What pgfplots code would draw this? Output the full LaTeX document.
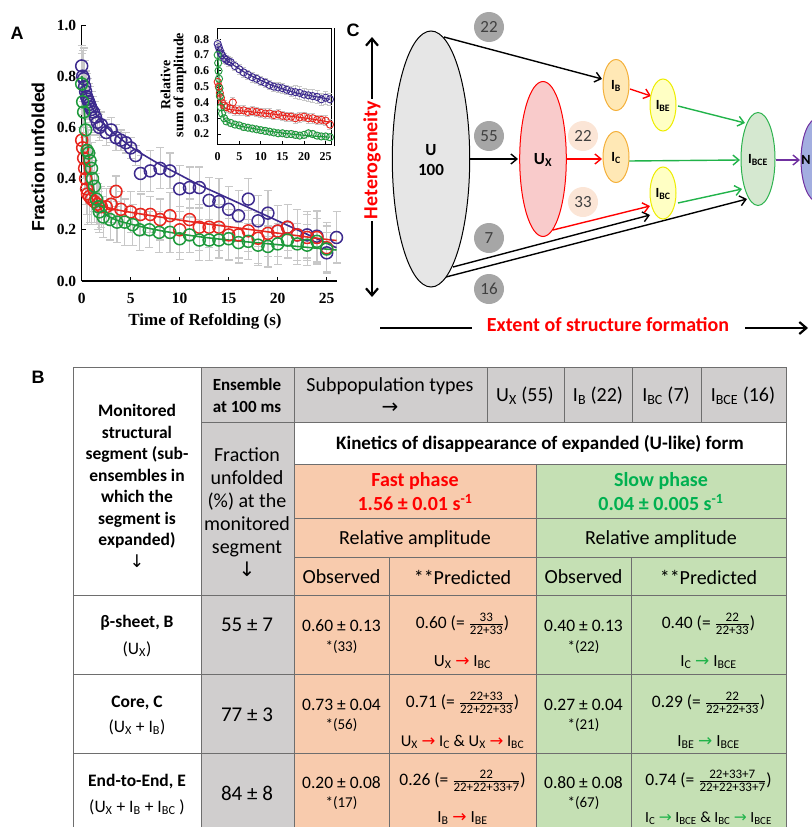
\documentclass[border=0pt]{standalone}
\usepackage{pgfplots}
\pgfplotsset{compat=1.18}
\usepackage{pgfplotstable}
\usepackage{fontspec}
\setmainfont{Carlito}
\newfontfamily\timesfont{Liberation Serif}
\newfontfamily\arialfont{Liberation Sans}
\newfontfamily\dejavu{DejaVu Sans}
\usetikzlibrary{arrows.meta}

\definecolor{cpur}{HTML}{3D2B8E}
\definecolor{cred}{HTML}{E8261E}
\definecolor{cgrn}{HTML}{1E9A3C}
\definecolor{ebar}{HTML}{C8C8C8}
\definecolor{tgray}{HTML}{D0CECE}
\definecolor{torange}{HTML}{F8CBAD}
\definecolor{tgreen}{HTML}{C5E0B4}
\definecolor{tline}{HTML}{6E6E6E}
\definecolor{fred}{HTML}{FF0000}
\definecolor{fgreen}{HTML}{00B050}
\definecolor{ugray}{HTML}{E6E6E6}
\definecolor{badge}{HTML}{A6A6A6}
\definecolor{peach}{HTML}{FBE5D6}
\definecolor{uxfill}{HTML}{F9CBCB}
\definecolor{ibfill}{HTML}{FFE8B5}
\definecolor{ibdraw}{HTML}{F4B03A}
\definecolor{iyfill}{HTML}{FFFFC4}
\definecolor{iydraw}{HTML}{EDED00}
\definecolor{igfill}{HTML}{D5E8D0}
\definecolor{igdraw}{HTML}{2EB34F}
\definecolor{nfill}{HTML}{A3AEE0}
\definecolor{ndraw}{HTML}{7030A0}
\definecolor{arrgreen}{HTML}{21B34A}

\newcommand\fr[2]{$\frac{\hbox{\fontsize{13}{13}\selectfont#1}}{\hbox{\fontsize{13}{13}\selectfont#2}}$}
\newcommand\ra{{\dejavu\textcolor{fred}{→}}}
\newcommand\ga{{\dejavu\textcolor{arrgreen}{→}}}
\newcommand\sub[1]{\textsubscript{#1}}

% main plot data: x y error
\pgfplotstableread{
x y e
0 0.84 0.08
0.1 0.80 0.10
0.2 0.79 0.12
0.3 0.76 0.10
0.4 0.74 0.08
0.5 0.72 0.09
0.6 0.71 0.08
0.7 0.70 0.07
0.8 0.69 0.07
0.9 0.68 0.06
1.0 0.67 0.07
1.2 0.66 0.06
1.4 0.64 0.06
1.6 0.62 0.05
1.8 0.60 0.05
2.0 0.61 0.05
2.5 0.58 0.05
3.0 0.59 0.05
3.5 0.56 0.05
4.0 0.55 0.04
4.5 0.54 0.04
5.0 0.52 0.04
5.5 0.49 0.04
6 0.42 0.07
7 0.43 0.08
8 0.44 0.08
9 0.43 0.07
10 0.36 0.09
11 0.365 0.08
12 0.365 0.08
13 0.315 0.09
14 0.31 0.09
15 0.28 0.09
16 0.255 0.10
17 0.32 0.08
18 0.235 0.10
19 0.265 0.09
20 0.195 0.10
21 0.21 0.09
22 0.18 0.10
23 0.18 0.09
24 0.175 0.10
25 0.11 0.08
26 0.17 0.10
}\purA
\pgfplotstableread{
x y e
0 0.55 0.05
0.1 0.52 0.06
0.2 0.48 0.08
0.3 0.44 0.08
0.4 0.40 0.10
0.5 0.36 0.10
0.6 0.34 0.12
0.8 0.33 0.10
1.0 0.32 0.10
1.3 0.31 0.08
1.6 0.30 0.08
2.0 0.29 0.08
2.5 0.29 0.07
3.0 0.30 0.07
3.5 0.35 0.06
4 0.28 0.07
5 0.27 0.08
6 0.26 0.08
7 0.26 0.07
8 0.24 0.08
9 0.255 0.09
10 0.20 0.09
11 0.24 0.08
12 0.21 0.09
13 0.21 0.08
14 0.21 0.09
15 0.18 0.10
16 0.18 0.09
17 0.196 0.08
18 0.167 0.10
19 0.186 0.09
20 0.195 0.10
21 0.21 0.09
22 0.18 0.10
23 0.17 0.09
24 0.17 0.10
25 0.13 0.10
}\redA
\pgfplotstableread{
x y e
0 0.77 0.12
0.1 0.70 0.10
0.2 0.66 0.10
0.4 0.59 0.10
0.55 0.51 0.10
0.7 0.50 0.09
0.85 0.47 0.10
1.0 0.44 0.10
1.1 0.40 0.10
1.3 0.37 0.10
1.5 0.32 0.10
1.7 0.29 0.09
1.8 0.27 0.08
2.2 0.25 0.08
2.9 0.24 0.08
3.6 0.23 0.08
4.4 0.23 0.09
5.2 0.22 0.08
5.9 0.20 0.08
6.9 0.20 0.07
7.9 0.19 0.08
9 0.19 0.08
10 0.165 0.08
11 0.18 0.07
12 0.16 0.08
13 0.16 0.08
14 0.16 0.07
15 0.165 0.08
16 0.15 0.08
17 0.155 0.07
18 0.14 0.08
19 0.135 0.08
20 0.145 0.08
21 0.16 0.07
22 0.145 0.08
23 0.14 0.08
24 0.155 0.09
25 0.125 0.09
}\grnA

% inset data
\pgfplotstableread{
x y e
0 0.77 0.03
0.25 0.75 0.03
0.5 0.73 0.03
0.75 0.71 0.03
1 0.70 0.03
1.5 0.68 0.03
2 0.67 0.03
2.5 0.66 0.03
3 0.655 0.03
4 0.63 0.03
5 0.61 0.03
6 0.59 0.03
7 0.575 0.03
8 0.56 0.03
9 0.55 0.03
10 0.535 0.03
11 0.525 0.03
12 0.51 0.03
13 0.50 0.03
14 0.495 0.03
15 0.49 0.03
16 0.48 0.03
17 0.47 0.03
18 0.465 0.04
19 0.46 0.04
20 0.45 0.04
21 0.445 0.04
22 0.44 0.04
23 0.435 0.04
24 0.42 0.04
25 0.43 0.04
26 0.42 0.04
}\purB
\pgfplotstableread{
x y e
0 0.53 0.03
0.25 0.50 0.03
0.5 0.46 0.03
0.75 0.43 0.03
1 0.40 0.03
1.5 0.38 0.03
2 0.37 0.03
3 0.36 0.03
3.5 0.40 0.03
4 0.35 0.03
5 0.35 0.03
6 0.35 0.03
7 0.34 0.03
8 0.345 0.03
9 0.34 0.03
10 0.335 0.03
11 0.33 0.03
12 0.33 0.03
13 0.32 0.03
14 0.325 0.03
15 0.315 0.03
16 0.31 0.03
17 0.31 0.03
18 0.30 0.03
19 0.305 0.03
20 0.31 0.03
21 0.30 0.03
22 0.30 0.03
23 0.29 0.03
24 0.29 0.03
25 0.285 0.03
26 0.26 0.03
}\redB
\pgfplotstableread{
x y e
0 0.70 0.02
0.1 0.65 0.02
0.2 0.60 0.02
0.3 0.55 0.02
0.4 0.49 0.02
0.5 0.44 0.02
0.75 0.37 0.02
1 0.33 0.02
1.5 0.30 0.02
2 0.28 0.02
3 0.27 0.02
4 0.26 0.02
5 0.255 0.02
6 0.245 0.02
7 0.24 0.02
8 0.235 0.02
9 0.23 0.02
10 0.225 0.02
11 0.22 0.02
12 0.215 0.02
13 0.21 0.02
14 0.205 0.02
15 0.205 0.02
16 0.20 0.02
17 0.20 0.02
18 0.195 0.02
19 0.19 0.02
20 0.195 0.02
21 0.205 0.02
22 0.20 0.02
23 0.19 0.02
24 0.185 0.02
25 0.185 0.02
26 0.18 0.02
}\grnB

\begin{document}
\begin{tikzpicture}[x=1pt,y=-1pt]
\useasboundingbox (0,0) rectangle (811,827);

% ================= Panel A =================
\begin{axis}[
  at={(81.7pt,-281pt)}, anchor=south west, scale only axis,
  width=254.8pt, height=256pt,
  xmin=0, xmax=26, ymin=0, ymax=1,
  axis x line*=bottom, axis y line*=left,
  axis line style={line width=1.2pt, black},
  xtick={0,5,10,15,20,25}, ytick={0,0.2,0.4,0.6,0.8,1.0},
  tick align=inside, major tick length=4pt,
  tick style={black, line width=1pt},
  /pgf/number format/assume math mode=true,
  tick label style={font=\timesfont\bfseries\fontsize{15.5}{18}\selectfont},
  xticklabel style={yshift=-9pt},
  yticklabel style={xshift=-2pt, /pgf/number format/fixed, /pgf/number format/fixed zerofill, /pgf/number format/precision=1},
  clip=false,
]
\pgfplotsset{ebstyle/.style={draw=none, mark=none, forget plot,
   error bars/.cd, y dir=both, y explicit,
   error bar style={draw=ebar, solid, line width=1.2pt},
   error mark options={draw=ebar, line width=1.2pt, mark size=4pt, rotate=90}}}
\addplot[ebstyle] table[x=x,y=y,y error=e]{\purA};
\addplot[ebstyle] table[x=x,y=y,y error=e]{\redA};
\addplot[ebstyle] table[x=x,y=y,y error=e]{\grnA};
% fits
\addplot[cpur, line width=1.6pt, no marks, smooth] coordinates {(0,0.80)(0.25,0.76)(0.5,0.725)(0.75,0.70)(1,0.68)(1.5,0.65)(2,0.625)(3,0.585)(4,0.555)(5,0.525)(6,0.50)(8,0.455)(10,0.415)(12,0.375)(14,0.34)(16,0.305)(18,0.27)(20,0.235)(22,0.20)(24,0.165)(26,0.13)};
\addplot[cred, line width=1.6pt, no marks, smooth] coordinates {(0,0.58)(0.1,0.52)(0.2,0.47)(0.35,0.42)(0.5,0.38)(0.75,0.345)(1,0.325)(1.5,0.305)(2,0.295)(3,0.283)(4,0.275)(6,0.262)(8,0.25)(10,0.238)(12,0.227)(14,0.217)(16,0.207)(18,0.197)(20,0.187)(22,0.177)(24,0.167)(26,0.158)};
\addplot[cgrn, line width=1.6pt, no marks, smooth] coordinates {(0,0.80)(0.25,0.67)(0.5,0.56)(0.75,0.47)(1,0.405)(1.25,0.355)(1.5,0.32)(1.75,0.295)(2,0.278)(2.5,0.258)(3,0.247)(4,0.232)(6,0.213)(8,0.197)(10,0.184)(12,0.173)(14,0.164)(16,0.156)(18,0.149)(20,0.142)(22,0.135)(24,0.128)(26,0.121)};
% points
\addplot[only marks, mark=o, mark size=6pt, mark options={cpur, line width=1.5pt}] table[x=x,y=y]{\purA};
\addplot[only marks, mark=o, mark size=6pt, mark options={cred, line width=1.5pt}] table[x=x,y=y]{\redA};
\addplot[only marks, mark=o, mark size=6pt, mark options={cgrn, line width=1.5pt}] table[x=x,y=y]{\grnA};
\end{axis}

% inset
\begin{axis}[
  at={(217.7pt,-144pt)}, anchor=south west, scale only axis,
  width=114pt, height=115.5pt,
  xmin=0, xmax=26.4, ymin=0.137, ymax=0.868,
  axis line style={line width=1pt, black},
  xtick={0,5,10,15,20,25}, ytick={0.2,0.3,0.4,0.5,0.6,0.7,0.8},
  tick align=inside, major tick length=3pt,
  tick style={black, line width=0.8pt},
  xtick pos=bottom, ytick pos=left,
  /pgf/number format/assume math mode=true,
  tick label style={font=\timesfont\bfseries\fontsize{12}{14}\selectfont},
  xticklabel style={yshift=-5pt},
  yticklabel style={xshift=-5pt, /pgf/number format/fixed, /pgf/number format/fixed zerofill, /pgf/number format/precision=1},
  axis background/.style={fill=white},
  clip=false,
]
\pgfplotsset{ebs/.style={draw=none, mark=none, forget plot,
   error bars/.cd, y dir=both, y explicit,
   error bar style={draw=ebar, solid, line width=0.8pt},
   error mark options={draw=ebar, line width=0.8pt, mark size=2.5pt, rotate=90}}}
\addplot[ebs] table[x=x,y=y,y error=e]{\purB};
\addplot[ebs] table[x=x,y=y,y error=e]{\redB};
\addplot[ebs] table[x=x,y=y,y error=e]{\grnB};
\addplot[cpur, line width=1.1pt, no marks, smooth] coordinates {(0,0.76)(0.5,0.72)(1,0.70)(2,0.67)(3,0.65)(4,0.63)(6,0.595)(8,0.565)(10,0.54)(12,0.515)(14,0.495)(16,0.478)(18,0.462)(20,0.45)(22,0.44)(24,0.43)(26,0.42)};
\addplot[cred, line width=1.1pt, no marks, smooth] coordinates {(0,0.53)(0.25,0.48)(0.5,0.44)(0.75,0.41)(1,0.39)(1.5,0.37)(2,0.36)(3,0.355)(5,0.348)(8,0.34)(11,0.332)(14,0.322)(17,0.312)(20,0.302)(23,0.29)(26,0.275)};
\addplot[cgrn, line width=1.1pt, no marks, smooth] coordinates {(0,0.72)(0.2,0.60)(0.4,0.50)(0.6,0.42)(0.8,0.36)(1,0.33)(1.5,0.295)(2,0.28)(3,0.268)(5,0.252)(8,0.236)(11,0.222)(14,0.21)(17,0.20)(20,0.192)(23,0.186)(26,0.18)};
\addplot[only marks, mark=o, mark size=3.6pt, mark options={cpur, line width=0.9pt}] table[x=x,y=y]{\purB};
\addplot[only marks, mark=o, mark size=3.6pt, mark options={cred, line width=0.9pt}] table[x=x,y=y]{\redB};
\addplot[only marks, mark=o, mark size=3.6pt, mark options={cgrn, line width=0.9pt}] table[x=x,y=y]{\grnB};
\end{axis}
\draw[line width=1pt] (334.5,28) -- (334.5,146);

\node[font=\arialfont\bfseries\fontsize{18}{18}\selectfont] at (17,33) {A};
\node[rotate=90, font=\arialfont\bfseries\fontsize{17.7}{17.7}\selectfont] at (38,157) {Fraction unfolded};
\node[font=\timesfont\bfseries\fontsize{17}{17}\selectfont] at (205,321) {Time of Refolding (s)};
\node[rotate=90, align=center, font=\timesfont\bfseries\fontsize{14}{13}\selectfont] at (173.5,85) {Relative\\sum of amplitude};

% ================= Panel C =================
\tikzset{arr/.style={line width=1.4pt, -{Straight Barb[length=6pt,width=10pt]}}}
\node[font=\arialfont\bfseries\fontsize{18}{18}\selectfont] at (353,30) {C};
\draw[line width=2.2pt, {Straight Barb[length=7pt,width=12pt]}-{Straight Barb[length=7pt,width=12pt]}] (372,37) -- (372,297);
\node[fill=white, rotate=90, text=fred, font=\bfseries\fontsize{20}{20}\selectfont, inner sep=2pt] at (372,160) {Heterogeneity};

% arrows first (behind ellipses)
\draw[arr, black] (444,37) -- (602,79);
\draw[arr, black] (470,159) -- (518,159);
\draw[arr, black] (453,267) -- (650,215);
\draw[arr, black] (446,277) -- (747,199);
\draw[arr, red] (567,159) -- (602,159);
\draw[arr, red] (630,89) -- (651,96);
\draw[arr, red] (553,230) -- (650,206);
\draw[arr, arrgreen] (678,106) -- (745,123);
\draw[arr, arrgreen] (629,161) -- (740,160);
\draw[arr, arrgreen] (678,203) -- (742,189);
\draw[arr, ndraw] (776,160) -- (800,160);

\draw[fill=ugray, line width=1pt] (431,159) ellipse [x radius=38.7pt, y radius=128pt];
\node[font=\bfseries\fontsize{17}{20}\selectfont, align=center] at (431,160) {U\\100};
\draw[fill=uxfill, draw=red, line width=1pt] (543,159) ellipse [x radius=23.3pt, y radius=77.5pt];
\node[font=\bfseries\fontsize{17}{17}\selectfont] at (543,160) {U\sub{X}};
\draw[fill=ibfill, draw=ibdraw, line width=1pt] (616,85) ellipse [x radius=13pt, y radius=25.5pt];
\node[font=\bfseries\fontsize{14}{14}\selectfont] at (616,86) {I\sub{B}};
\draw[fill=ibfill, draw=ibdraw, line width=1pt] (616,157) ellipse [x radius=13pt, y radius=25.5pt];
\node[font=\bfseries\fontsize{14}{14}\selectfont] at (616,158) {I\sub{C}};
\draw[fill=iyfill, draw=iydraw, line width=1pt] (663,105) ellipse [x radius=13pt, y radius=26pt];
\node[font=\bfseries\fontsize{14}{14}\selectfont] at (663,106) {I\sub{BE}};
\draw[fill=iyfill, draw=iydraw, line width=1pt] (663,193) ellipse [x radius=13pt, y radius=26pt];
\node[font=\bfseries\fontsize{14}{14}\selectfont] at (663,194) {I\sub{BC}};
\draw[fill=igfill, draw=igdraw, line width=1pt] (758,159) ellipse [x radius=17pt, y radius=46.5pt];
\node[font=\bfseries\fontsize{14}{14}\selectfont] at (758,160) {I\sub{BCE}};
\draw[fill=nfill, draw=ndraw, line width=1pt] (818,160) ellipse [x radius=17pt, y radius=42pt];
\node[font=\bfseries\fontsize{14}{14}\selectfont, inner sep=0pt] at (806,160) {N};

\tikzset{badge/.style={circle, fill=badge, minimum size=30pt, inner sep=0pt, text=black!75, font=\fontsize{17}{17}\selectfont}}
\tikzset{pbadge/.style={circle, fill=peach, minimum size=30pt, inner sep=0pt, text=black!75, font=\fontsize{17}{17}\selectfont}}
\node[badge] at (489,27) {22};
\node[badge] at (489,136) {55};
\node[badge] at (489,238) {7};
\node[badge] at (489,289) {16};
\node[pbadge] at (583,136) {22};
\node[pbadge] at (583,202) {33};

\draw[line width=2.2pt] (380,328) -- (472,328);
\node[text=fred, font=\bfseries\fontsize{20}{20}\selectfont] at (608,325) {Extent of structure formation};
\draw[line width=2.2pt, -{Straight Barb[length=7pt,width=12pt]}] (745,328) -- (808,328);

% ================= Panel B =================
\node[font=\arialfont\bfseries\fontsize{18}{18}\selectfont] at (38,377) {B};
\fill[white] (73,367) rectangle (201,832);
\fill[tgray] (201,367) rectangle (294,832);
\fill[tgray] (294,367) rectangle (786,422);
\fill[white] (294,422) rectangle (786,464);
\fill[torange] (294,464) rectangle (536,832);
\fill[tgreen] (536,464) rectangle (786,832);
\begin{scope}[draw=tline, line width=0.9pt]
\draw (73,367) -- (786,367);
\draw (73,367) -- (73,832);
\draw (201,367) -- (201,832);
\draw (294,367) -- (294,832);
\draw (786,367) -- (786,832);
\draw (201,422) -- (786,422);
\foreach \xx in {487,564,632,701} \draw (\xx,367) -- (\xx,422);
\draw (294,464) -- (786,464);
\draw (536,464) -- (536,832);
\draw (294,518) -- (786,518);
\draw (294,557) -- (786,557);
\draw (389,557) -- (389,832);
\draw (631,557) -- (631,832);
\foreach \yy in {595,674,753} \draw (73,\yy) -- (786,\yy);
\end{scope}

\node[align=center, font=\bfseries\fontsize{17.5}{21.5}\selectfont] at (137,486) {Monitored\\structural\\segment (sub-\\ensembles in\\which the\\segment is\\expanded)\\{\dejavu\mdseries ↓}};
\node[align=center, font=\bfseries\fontsize{17}{22}\selectfont] at (247,396) {Ensemble\\at 100 ms};
\node[align=center, font=\fontsize{20}{23}\selectfont] at (247,512) {Fraction\\unfolded\\(\%) at the\\monitored\\segment\\{\dejavu ↓}};
\node[align=center, font=\fontsize{20}{22}\selectfont] at (390,396) {Subpopulation types\\{\dejavu →}};
\node[font=\fontsize{20}{20}\selectfont] at (525,396) {U\sub{X} (55)};
\node[font=\fontsize{20}{20}\selectfont] at (598,396) {I\sub{B} (22)};
\node[font=\fontsize{20}{20}\selectfont] at (666,396) {I\sub{BC} (7)};
\node[font=\fontsize{20}{20}\selectfont] at (743,396) {I\sub{BCE} (16)};
\node[font=\bfseries\fontsize{19}{19}\selectfont] at (540,444) {Kinetics of disappearance of expanded (U-like) form};
\node[align=center, text=fred, font=\bfseries\fontsize{20}{24}\selectfont] at (415,492) {Fast phase\\1.56 ± 0.01 s\textsuperscript{-1}};
\node[align=center, text=fgreen, font=\bfseries\fontsize{20}{24}\selectfont] at (661,492) {Slow phase\\0.04 ± 0.005 s\textsuperscript{-1}};
\node[font=\fontsize{20}{20}\selectfont] at (415,539) {Relative amplitude};
\node[font=\fontsize{20}{20}\selectfont] at (661,539) {Relative amplitude};
\node[font=\fontsize{20}{20}\selectfont] at (341.5,577) {Observed};
\node[font=\fontsize{20}{20}\selectfont] at (462.5,577) {**Predicted};
\node[font=\fontsize{20}{20}\selectfont] at (583.5,577) {Observed};
\node[font=\fontsize{20}{20}\selectfont] at (708.5,577) {**Predicted};

% row 1
\node[font=\bfseries\fontsize{17.5}{17.5}\selectfont] at (137,623) {β-sheet, B};
\node[font=\fontsize{17.5}{17.5}\selectfont] at (137,649) {(U\sub{X})};
\node[font=\fontsize{21}{21}\selectfont] at (247,625) {55 ± 7};
\node[font=\fontsize{17.5}{17.5}\selectfont] at (341.5,626) {0.60 ± 0.13};
\node[font=\fontsize{15}{15}\selectfont] at (341.5,647) {*(33)};
\node[font=\fontsize{17.5}{17.5}\selectfont] at (462.5,624) {0.60 (= \fr{33}{22+33})};
\node[font=\fontsize{17}{17}\selectfont] at (462.5,662) {U\sub{X} \ra{} I\sub{BC}};
\node[font=\fontsize{17.5}{17.5}\selectfont] at (583.5,626) {0.40 ± 0.13};
\node[font=\fontsize{15}{15}\selectfont] at (583.5,647) {*(22)};
\node[font=\fontsize{17.5}{17.5}\selectfont] at (708.5,624) {0.40 (= \fr{22}{22+33})};
\node[font=\fontsize{17}{17}\selectfont] at (708.5,662) {I\sub{C} \ga{} I\sub{BCE}};
% row 2
\node[font=\bfseries\fontsize{17.5}{17.5}\selectfont] at (137,703) {Core, C};
\node[font=\fontsize{17.5}{17.5}\selectfont] at (137,727) {(U\sub{X} + I\sub{B})};
\node[font=\fontsize{21}{21}\selectfont] at (247,715) {77 ± 3};
\node[font=\fontsize{17.5}{17.5}\selectfont] at (341.5,705) {0.73 ± 0.04};
\node[font=\fontsize{15}{15}\selectfont] at (341.5,725) {*(56)};
\node[font=\fontsize{17.5}{17.5}\selectfont] at (462.5,703) {0.71 (= \fr{22+33}{22+22+33})};
\node[font=\fontsize{16.5}{16.5}\selectfont] at (462.5,742) {U\sub{X} \ra{} I\sub{C} \& U\sub{X} \ra{} I\sub{BC}};
\node[font=\fontsize{17.5}{17.5}\selectfont] at (583.5,705) {0.27 ± 0.04};
\node[font=\fontsize{15}{15}\selectfont] at (583.5,725) {*(21)};
\node[font=\fontsize{17.5}{17.5}\selectfont] at (708.5,703) {0.29 (= \fr{22}{22+22+33})};
\node[font=\fontsize{17}{17}\selectfont] at (708.5,742) {I\sub{BE} \ga{} I\sub{BCE}};
% row 3
\node[font=\bfseries\fontsize{17.5}{17.5}\selectfont] at (137,782) {End-to-End, E};
\node[font=\fontsize{17.5}{17.5}\selectfont] at (137,807) {(U\sub{X} + I\sub{B} + I\sub{BC} )};
\node[font=\fontsize{21}{21}\selectfont] at (247,793) {84 ± 8};
\node[font=\fontsize{17.5}{17.5}\selectfont] at (341.5,783) {0.20 ± 0.08};
\node[font=\fontsize{15}{15}\selectfont] at (341.5,803) {*(17)};
\node[font=\fontsize{17.5}{17.5}\selectfont] at (462.5,781) {0.26 (= \fr{22}{22+22+33+7})};
\node[font=\fontsize{17}{17}\selectfont] at (462.5,818) {I\sub{B} \ra{} I\sub{BE}};
\node[font=\fontsize{17.5}{17.5}\selectfont] at (583.5,783) {0.80 ± 0.08};
\node[font=\fontsize{15}{15}\selectfont] at (583.5,803) {*(67)};
\node[font=\fontsize{17.5}{17.5}\selectfont] at (708.5,781) {0.74 (= \fr{22+33+7}{22+22+33+7})};
\node[font=\fontsize{15.5}{15.5}\selectfont] at (708.5,818) {I\sub{C} \ga{} I\sub{BCE} \& I\sub{BC} \ga{} I\sub{BCE}};
\end{tikzpicture}
\end{document}
